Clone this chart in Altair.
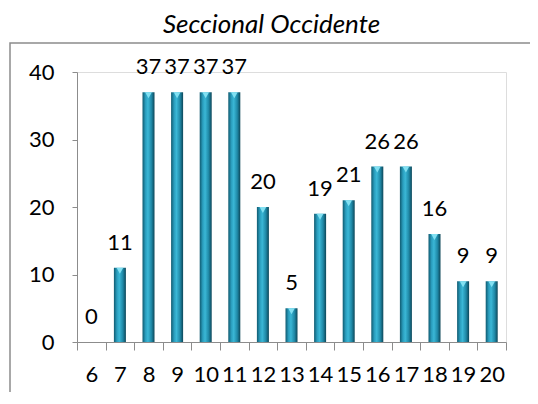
import altair as alt
import pandas as pd

categories = ["6", "7", "8", "9", "10", "11", "12", "13", "14", "15", "16", "17", "18", "19", "20"]
values = [0, 11, 37, 37, 37, 37, 20, 5, 19, 21, 26, 26, 16, 9, 9]

df = pd.DataFrame({"cat": categories, "val": values})

FONT = "Lato"
FS = 22

x_enc = alt.X("cat:N", sort=categories, title=None,
              scale=alt.Scale(paddingInner=0, paddingOuter=0),
              axis=alt.Axis(labelAngle=0, tickBand="extent", tickSize=8,
                            labelPadding=14, domainColor="#8c8c8c", tickColor="#8c8c8c",
                            labelFontSize=FS, labelFont=FONT, labelColor="#000"))
y_enc = alt.Y("val:Q", title=None,
              scale=alt.Scale(domain=[0, 40], nice=False),
              axis=alt.Axis(values=[0, 10, 20, 30, 40], tickSize=5, labelPadding=18,
                            grid=False, domainColor="#8c8c8c", tickColor="#8c8c8c",
                            labelFontSize=FS, labelFont=FONT, labelColor="#000"))

grad = alt.Gradient(
    gradient="linear", x1=0, x2=1, y1=0, y2=0,
    stops=[alt.GradientStop(color="#0f5a70", offset=0),
           alt.GradientStop(color="#2a9dbd", offset=0.25),
           alt.GradientStop(color="#3ab7d6", offset=0.45),
           alt.GradientStop(color="#1f88a6", offset=0.75),
           alt.GradientStop(color="#0c4658", offset=1)])

base = alt.Chart(df)

bars = base.mark_bar(size=12, fill=grad).encode(x=x_enc, y=y_enc)

caps = base.transform_filter("datum.val > 0").mark_point(
    shape="triangle-down", filled=True, size=45, color="#86e3f3", opacity=0.95, yOffset=3
).encode(x=alt.X("cat:N", sort=categories), y="val:Q")

labels = base.mark_text(fontSize=FS, font=FONT, baseline="alphabetic", dy=-18, color="#000").encode(
    x=alt.X("cat:N", sort=categories), y="val:Q", text="val:Q")

frame = alt.Chart(pd.DataFrame({"a": [0]})).mark_rect(
    fill=None, stroke="#8c8c8c", strokeWidth=1.5
).encode(x=alt.value(-67), x2=alt.value(470), y=alt.value(-29), y2=alt.value(340))

chart = alt.layer(frame, bars, caps, labels).properties(
    width=429, height=270,
    padding={"left": 69, "top": 64, "right": 24, "bottom": 50},
    autosize=alt.AutoSizeParams(type="none"),
    title=alt.TitleParams("Seccional Occidente", font=FONT, fontSize=26, fontStyle="italic",
                          fontWeight="normal", color="#000", anchor="middle", frame="group",
                          dx=-20, offset=4),
).configure_view(stroke=None).configure(background="white")

chart.save("out.html", embed_options={"renderer": "svg", "actions": False})
